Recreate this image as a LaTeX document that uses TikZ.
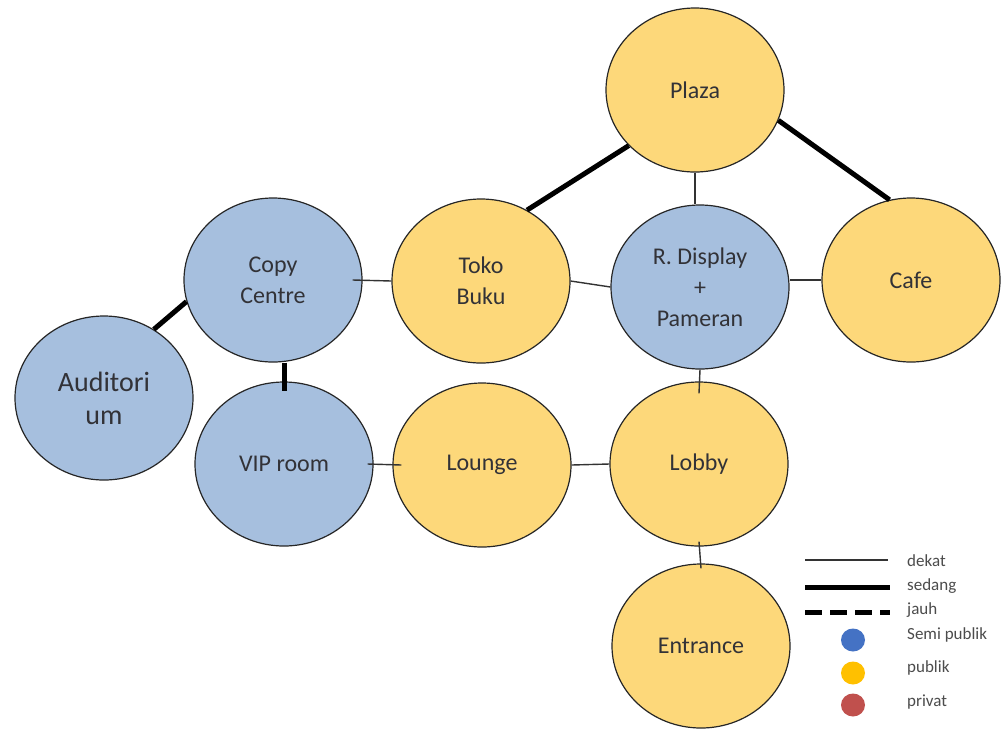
\documentclass[tikz,border=0pt]{standalone}
\usepackage{fontspec}
\setmainfont{Carlito}
\usetikzlibrary{shapes.geometric}

\definecolor{semifill}{RGB}{166,191,222}
\definecolor{publikfill}{RGB}{253,216,122}
\definecolor{semidot}{RGB}{68,114,196}
\definecolor{publikdot}{RGB}{255,192,0}
\definecolor{privatdot}{RGB}{192,80,77}
\definecolor{textdark}{RGB}{50,50,55}

\begin{document}
\begin{tikzpicture}[x=1pt, y=-1pt,
    room/.style={ellipse, draw=black!85, line width=1.2pt, minimum width=178pt, minimum height=164pt,
      inner sep=0pt, align=center, text=textdark, font=\fontsize{24}{31}\selectfont},
    semi/.style={room, fill=semifill},
    publik/.style={room, fill=publikfill},
    dekat/.style={line width=1.4pt, black!80},
    sedang/.style={line width=5pt, black},
    jauh/.style={line width=5pt, black, dash pattern=on 17pt off 8pt},
    legendtext/.style={anchor=west, inner sep=0pt, text=black!70, font=\fontsize{17}{20}\selectfont},
    legenddot/.style={ellipse, minimum width=24pt, minimum height=23pt, inner sep=0pt}]
    \useasboundingbox[fill=white] (0,0) rectangle (1007,729);
    % Rooms
    \node[publik] (plaza) at (695,90) {Plaza};
    \node[semi] (copy) at (273,280) {Copy\\Centre};
    \node[publik] (toko) at (481,281) {Toko\\Buku};
    \node[semi] (display) at (700,287) {R. Display\\+\\Pameran};
    \node[publik] (cafe) at (911,280) {Cafe};
    \node[semi, font=\fontsize{28}{33}\selectfont] (audit) at (104,398) {Auditori\\um};
    \node[semi] (vip) at (284,464) {VIP room};
    \node[publik] (lounge) at (482,465) {Lounge};
    \node[publik] (lobby) at (699,464) {Lobby};
    \node[publik] (entrance) at (701,646) {Entrance};
    % Relations: sedang
    \draw[sedang] (plaza.-140) -- (toko.57);
    \draw[sedang] (plaza.-20) -- (cafe.105);
    \draw[sedang] (audit.54) -- (copy.194);
    \draw[sedang] (copy.south -| vip.north) -- ([yshift=-10pt]vip.north);
    % Relations: dekat
    \draw[dekat] (plaza.south) -- (plaza.south |- display.north);
    \draw[dekat] ([xshift=-10pt]copy.east) -- (toko.west);
    \draw[dekat] (toko.east) -- (display.west);
    \draw[dekat] (cafe.west -| display.east) -- (cafe.west);
    \draw[dekat] ([xshift=-6pt]vip.east) -- ([xshift=9pt]lounge.west);
    \draw[dekat] (lounge.east) -- (lobby.west);
    \draw[dekat] (display.south) -- ([yshift=-12pt]lobby.north);
    \draw[dekat] ([yshift=5pt]lobby.south) -- ([yshift=-5pt]entrance.north);
    % Legend
    \draw[dekat] (805,560) -- (888,560);
    \draw[sedang] (805,587) -- (890,587);
    \draw[jauh] (805,612) -- (890,612);
    \node[legendtext] (ldekat) at (907,561) {dekat};
    \node[legendtext] (lsedang) at (907,586) {sedang};
    \node[legendtext] (ljauh) at (907,610) {jauh};
    \node[legenddot, fill=semidot] (dsemi) at (853,640) {};
    \node[legenddot, fill=publikdot] (dpublik) at (853,673) {};
    \node[legenddot, fill=privatdot] (dprivat) at (853,705) {};
    \node[legendtext] (lsemi) at (907,635) {Semi publik};
    \node[legendtext] (lpublik) at (907,668) {publik};
    \node[legendtext] (lprivat) at (907,702) {privat};
\end{tikzpicture}
\end{document}
